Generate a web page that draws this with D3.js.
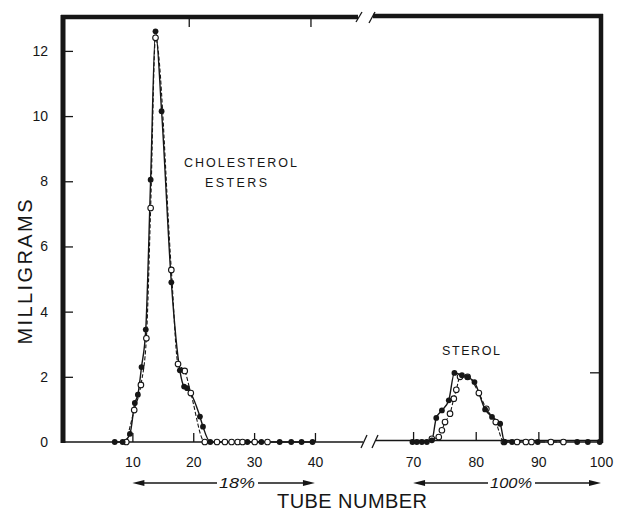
<!DOCTYPE html>
<html>
<head>
<meta charset="utf-8">
<script src="https://cdn.jsdelivr.net/npm/d3@7"></script>
<style>
  body { margin: 0; background: white; }
  text { font-family: "Liberation Sans", Arial, sans-serif; fill: #161616; }
</style>
</head>
<body>
<div id="chart"></div>
<script>
// tube number, milligrams
const esterFilled = [[7.1, 0], [8.4, 0], [9.6, 0.25], [10.4, 1.2], [10.9, 1.45], [11.5, 2.3], [12.2, 3.45],
  [13.0, 8.05], [13.8, 12.6], [14.8, 10.15], [16.4, 4.9], [17.8, 2.2], [18.5, 1.7], [19.0, 1.65],
  [21.1, 0.78], [21.6, 0.47], [22.8, 0], [28.9, 0], [31.2, 0], [34.2, 0], [36.1, 0], [37.8, 0], [39.6, 0]]
const esterOpen = [[9.0, 0], [10.3, 0.98], [11.4, 1.75], [12.3, 3.18], [13.0, 7.18], [13.8, 12.4],
  [16.4, 5.28], [17.5, 2.39], [18.6, 2.18], [19.6, 1.5], [21.9, 0], [23.9, 0], [25.2, 0], [26.3, 0],
  [27.3, 0], [28.1, 0], [30.1, 0], [32.2, 0]]
const sterolFilled = [[69.9, 0], [70.6, 0], [71.4, 0], [72.2, 0], [73.0, 0.05], [73.7, 0.74], [74.6, 0.97],
  [75.7, 1.28], [76.6, 2.12], [77.8, 2.05], [78.7, 1.99], [79.8, 1.84], [81.5, 1.0], [82.6, 0.77],
  [83.9, 0.56], [84.6, 0], [85.8, 0], [89.9, 0], [96.2, 0], [97.9, 0], [99.8, 0]]
const sterolOpen = [[73.0, 0.1], [74.1, 0.15], [74.6, 0.36], [75.1, 0.61], [75.9, 0.87], [76.5, 1.33],
  [76.9, 1.6], [77.5, 2.0], [78.7, 2.0], [80.5, 1.5], [81.7, 1.02], [83.2, 0.61], [84.5, 0],
  [86.6, 0], [88.0, 0], [88.9, 0], [92.0, 0], [94.0, 0]]

const leftTicks = [10, 20, 30, 40]
const rightTicks = [70, 80, 90, 100]
const yTicks = [0, 2, 4, 6, 8, 10, 12]
const solventRanges = [{label: '18%', from: 10, to: 40}, {label: '100%', from: 70, to: 100}]

const svg = d3.select('#chart').append('svg')
  .attr('width', 619)
  .attr('height', 514)
  .style('background', 'white')

const xL = d3.scaleLinear().domain([-1.4, 47.4]).range([63, 360])
const xR = d3.scaleLinear().domain([64.4, 100]).range([378, 601])
const y = d3.scaleLinear().domain([0, 13.04]).range([442, 17])
const xPos = t => t < 55 ? xL(t) : xR(t)

const ink = '#161616'

// bottom axes (broken)
const axL = svg.append('g').attr('transform', 'translate(0,442)')
  .call(d3.axisBottom(xL).tickValues(leftTicks).tickSizeInner(-9).tickSizeOuter(0).tickPadding(15).tickFormat(d3.format('d')))
const axR = svg.append('g').attr('transform', 'translate(0,441)')
  .call(d3.axisBottom(xR).tickValues(rightTicks).tickSizeInner(-9).tickSizeOuter(0).tickPadding(16).tickFormat(d3.format('d')))
;[axL, axR].forEach(g => {
  g.select('.domain').remove()
  g.selectAll('line').attr('stroke', ink).attr('stroke-width', 1.3)
  g.selectAll('text').style('font-size', '14px').attr('fill', '#222')
})
axR.selectAll('.tick').filter(d => d === 100).select('line').remove()

svg.append('line').attr('x1', 63).attr('x2', 363).attr('y1', 442).attr('y2', 442)
  .attr('stroke', ink).attr('stroke-width', 1.6)
svg.append('line').attr('x1', 376).attr('x2', 601).attr('y1', 440.5).attr('y2', 440.5)
  .attr('stroke', ink).attr('stroke-width', 1.6)
;[[361, 448, 367, 435], [372, 448, 378, 435]].forEach(s => {
  svg.append('line').attr('x1', s[0]).attr('y1', s[1]).attr('x2', s[2]).attr('y2', s[3])
    .attr('stroke', ink).attr('stroke-width', 1.3)
})

// left axis
const ay = svg.append('g').attr('transform', 'translate(63,0)')
  .call(d3.axisLeft(y).tickValues(yTicks).tickSizeInner(-10).tickSizeOuter(0).tickPadding(15))
ay.select('.domain').remove()
ay.selectAll('line').attr('stroke', ink).attr('stroke-width', 1.3)
ay.selectAll('text').style('font-size', '14px').attr('fill', '#222')
ay.selectAll('.tick').filter(d => d === 0).select('line').remove()

// frame: thick left, top (broken) and right
svg.append('line').attr('x1', 63).attr('x2', 63).attr('y1', 15).attr('y2', 443)
  .attr('stroke', ink).attr('stroke-width', 5)
svg.append('line').attr('x1', 61).attr('x2', 358).attr('y1', 17).attr('y2', 17)
  .attr('stroke', ink).attr('stroke-width', 4.5)
svg.append('line').attr('x1', 373).attr('x2', 603).attr('y1', 16).attr('y2', 16)
  .attr('stroke', ink).attr('stroke-width', 4.5)
svg.append('line').attr('x1', 601).attr('x2', 601).attr('y1', 14).attr('y2', 443)
  .attr('stroke', ink).attr('stroke-width', 4.5)
;[[356, 22, 362, 12], [369, 23, 375, 12]].forEach(s => {
  svg.append('line').attr('x1', s[0]).attr('y1', s[1]).attr('x2', s[2]).attr('y2', s[3])
    .attr('stroke', ink).attr('stroke-width', 1.3)
})
// top and right inner ticks
;[20, 40].forEach(t => {
  svg.append('line').attr('x1', xL(t) - 4).attr('x2', xL(t) - 4).attr('y1', 18).attr('y2', 27)
    .attr('stroke', ink).attr('stroke-width', 1.3)
})
svg.append('line').attr('x1', 590).attr('x2', 600).attr('y1', y(2) - 4).attr('y2', y(2) - 4)
  .attr('stroke', ink).attr('stroke-width', 1.3)

// curves
const line = d3.line().x(d => xPos(d[0])).y(d => y(d[1])).curve(d3.curveMonotoneX)
;[esterOpen, sterolOpen].forEach(s => {
  svg.append('path').datum(s).attr('d', line)
    .attr('fill', 'none').attr('stroke', ink).attr('stroke-width', 1.1).attr('stroke-dasharray', '4,2')
})
;[esterFilled, sterolFilled].forEach(s => {
  svg.append('path').datum(s).attr('d', line)
    .attr('fill', 'none').attr('stroke', ink).attr('stroke-width', 1.4)
})

const openPts = esterOpen.concat(sterolOpen)
const filledPts = esterFilled.concat(sterolFilled)
svg.selectAll('circle.open').data(openPts).enter().append('circle')
  .attr('class', 'open')
  .attr('cx', d => xPos(d[0])).attr('cy', d => y(d[1])).attr('r', 2.8)
  .attr('fill', 'white').attr('stroke', ink).attr('stroke-width', 1.1)
svg.selectAll('circle.filled').data(filledPts).enter().append('circle')
  .attr('class', 'filled')
  .attr('cx', d => xPos(d[0])).attr('cy', d => y(d[1])).attr('r', 2.9)
  .attr('fill', ink)

// labels in the plot
svg.append('text').attr('x', 184).attr('y', 166.5).attr('textLength', 113).attr('lengthAdjust', 'spacing')
  .style('font-size', '12.5px').text('CHOLESTEROL')
svg.append('text').attr('x', 205).attr('y', 186.5).attr('textLength', 62).attr('lengthAdjust', 'spacing')
  .style('font-size', '12.5px').text('ESTERS')
svg.append('text').attr('x', 442).attr('y', 354.5).attr('textLength', 58).attr('lengthAdjust', 'spacing')
  .style('font-size', '12.5px').text('STEROL')

// solvent arrows
const arrowY = 483
solventRanges.forEach((r, i) => {
  const sc = i === 0 ? xL : xR
  const x0 = sc(r.from), x1 = sc(r.to)
  const tw = i === 0 ? 36 : 42
  const tx = i === 0 ? 219 : 490
  svg.append('line').attr('x1', x0 + 8).attr('x2', tx - 2).attr('y1', arrowY).attr('y2', arrowY)
    .attr('stroke', ink).attr('stroke-width', 1.5)
  svg.append('line').attr('x1', tx + tw + 3).attr('x2', x1 - 8).attr('y1', arrowY).attr('y2', arrowY)
    .attr('stroke', ink).attr('stroke-width', 1.5)
  svg.append('path').attr('d', `M${x0},${arrowY} L${x0 + 12},${arrowY - 3} L${x0 + 12},${arrowY + 3} Z`).attr('fill', ink)
  svg.append('path').attr('d', `M${x1},${arrowY} L${x1 - 12},${arrowY - 3} L${x1 - 12},${arrowY + 3} Z`).attr('fill', ink)
  svg.append('text').attr('x', tx).attr('y', arrowY + 5).attr('textLength', tw).attr('lengthAdjust', 'spacingAndGlyphs')
    .style('font-size', '15px').style('font-style', 'italic').text(r.label)
})

// axis titles
svg.append('text').attr('x', 352).attr('y', 508).attr('text-anchor', 'middle')
  .attr('textLength', 150).attr('lengthAdjust', 'spacing')
  .style('font-size', '20px').text('TUBE  NUMBER')
svg.append('text').attr('transform', 'translate(32,272) rotate(-90)').attr('text-anchor', 'middle')
  .attr('textLength', 145).attr('lengthAdjust', 'spacing')
  .style('font-size', '20px').text('MILLIGRAMS')
</script>
</body>
</html>
